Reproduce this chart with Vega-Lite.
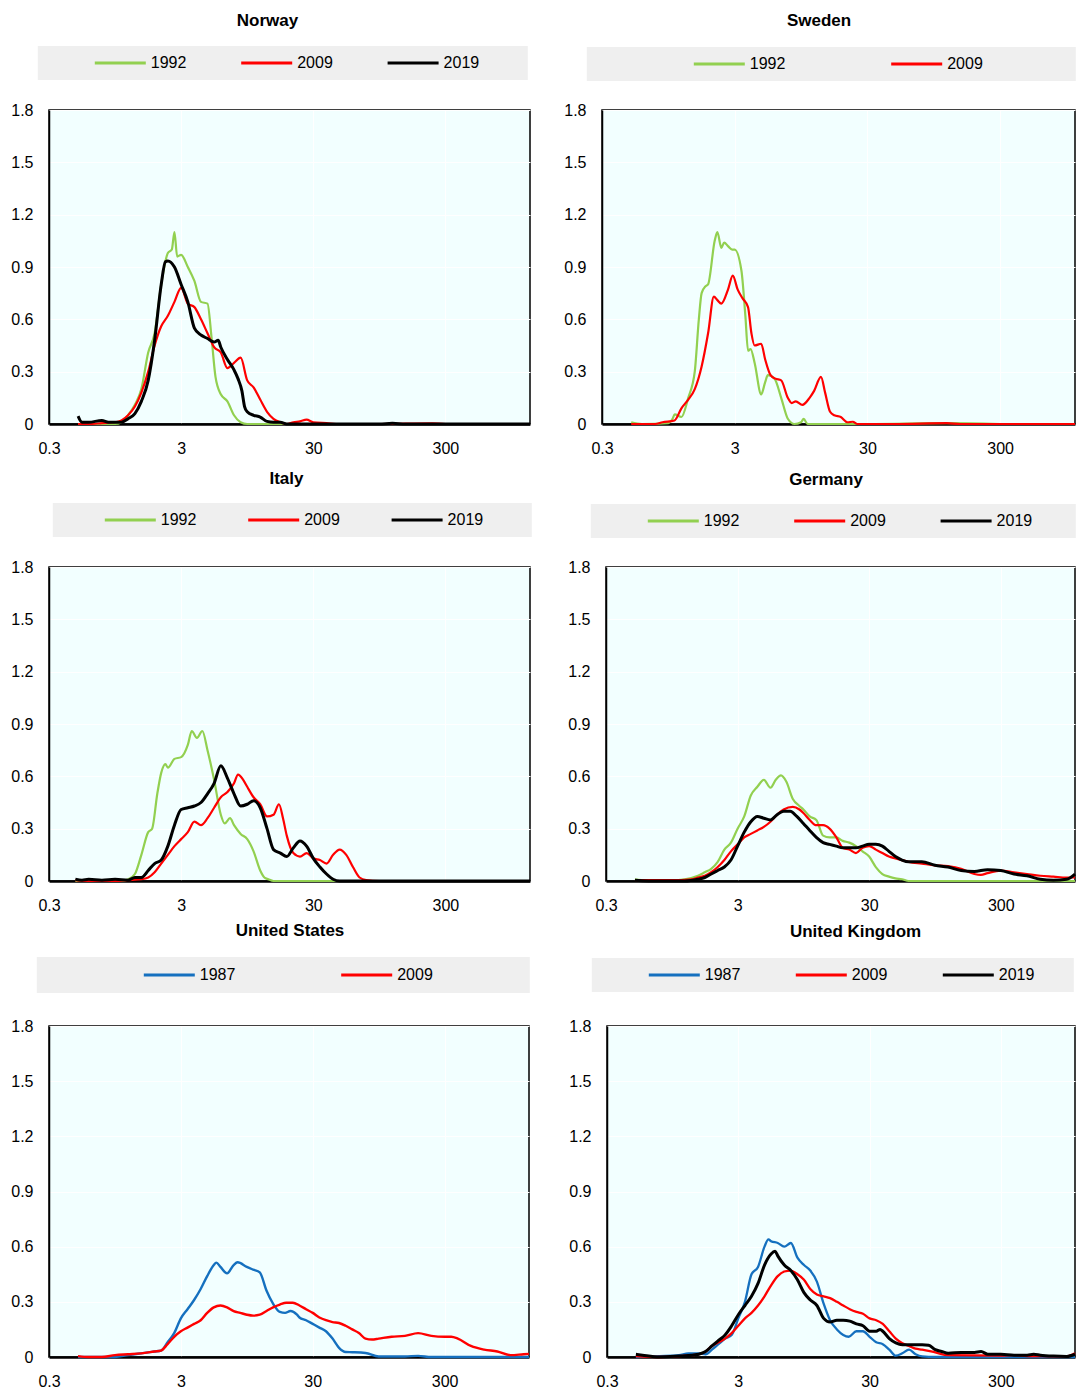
{
"$schema": "https://vega.github.io/schema/vega-lite/v6.json",
"padding": {"left": 10, "top": 11, "right": 0, "bottom": 0},
"background": "#ffffff",
"datasets": {
"no": [
{"s":"1992","x":0.498,"y":0},{"s":"1992","x":0.599,"y":0},{"s":"1992","x":0.754,"y":0},{"s":"1992","x":0.949,"y":0},{"s":"1992","x":1.06,"y":0.01},{"s":"1992","x":1.19,"y":0.05},{"s":"1992","x":1.34,"y":0.11},{"s":"1992","x":1.5,"y":0.2},{"s":"1992","x":1.69,"y":0.41},{"s":"1992","x":1.89,"y":0.52},{"s":"1992","x":2.12,"y":0.8},{"s":"1992","x":2.38,"y":0.98},{"s":"1992","x":2.55,"y":1.0},{"s":"1992","x":2.67,"y":1.1},{"s":"1992","x":2.8,"y":0.96},{"s":"1992","x":3.0,"y":0.97},{"s":"1992","x":3.37,"y":0.9},{"s":"1992","x":3.78,"y":0.82},{"s":"1992","x":4.24,"y":0.7},{"s":"1992","x":4.75,"y":0.69},{"s":"1992","x":5.09,"y":0.5},{"s":"1992","x":5.46,"y":0.27},{"s":"1992","x":5.99,"y":0.17},{"s":"1992","x":6.72,"y":0.13},{"s":"1992","x":7.54,"y":0.05},{"s":"1992","x":8.46,"y":0.01},{"s":"1992","x":9.49,"y":0},{"s":"1992","x":11.9,"y":0},{"s":"1992","x":18.9,"y":0},
{"s":"2009","x":0.498,"y":0},{"s":"2009","x":0.599,"y":0},{"s":"2009","x":0.754,"y":0.005},{"s":"2009","x":0.949,"y":0.01},{"s":"2009","x":1.06,"y":0.02},{"s":"2009","x":1.19,"y":0.05},{"s":"2009","x":1.34,"y":0.1},{"s":"2009","x":1.5,"y":0.18},{"s":"2009","x":1.69,"y":0.3},{"s":"2009","x":1.89,"y":0.45},{"s":"2009","x":2.12,"y":0.56},{"s":"2009","x":2.38,"y":0.62},{"s":"2009","x":2.67,"y":0.7},{"s":"2009","x":3.0,"y":0.78},{"s":"2009","x":3.37,"y":0.69},{"s":"2009","x":3.78,"y":0.67},{"s":"2009","x":4.24,"y":0.6},{"s":"2009","x":4.75,"y":0.52},{"s":"2009","x":5.33,"y":0.44},{"s":"2009","x":5.99,"y":0.41},{"s":"2009","x":6.72,"y":0.32},{"s":"2009","x":7.54,"y":0.35},{"s":"2009","x":8.46,"y":0.38},{"s":"2009","x":9.49,"y":0.25},{"s":"2009","x":10.6,"y":0.21},{"s":"2009","x":11.9,"y":0.14},{"s":"2009","x":13.4,"y":0.07},{"s":"2009","x":15.0,"y":0.03},{"s":"2009","x":16.9,"y":0.01},{"s":"2009","x":18.9,"y":0},{"s":"2009","x":21.2,"y":0.01},{"s":"2009","x":23.8,"y":0.015},{"s":"2009","x":26.7,"y":0.025},{"s":"2009","x":30.0,"y":0.01},{"s":"2009","x":37.8,"y":0.005},{"s":"2009","x":47.5,"y":0},{"s":"2009","x":94.9,"y":0},{"s":"2009","x":238,"y":0.004},{"s":"2009","x":300,"y":0},{"s":"2009","x":1310,"y":0},
{"s":"2019","x":0.498,"y":0.045},{"s":"2019","x":0.533,"y":0.01},{"s":"2019","x":0.599,"y":0.01},{"s":"2019","x":0.754,"y":0.02},{"s":"2019","x":0.846,"y":0.01},{"s":"2019","x":1.06,"y":0.01},{"s":"2019","x":1.19,"y":0.03},{"s":"2019","x":1.34,"y":0.06},{"s":"2019","x":1.5,"y":0.13},{"s":"2019","x":1.69,"y":0.25},{"s":"2019","x":1.89,"y":0.48},{"s":"2019","x":2.12,"y":0.8},{"s":"2019","x":2.28,"y":0.93},{"s":"2019","x":2.38,"y":0.935},{"s":"2019","x":2.67,"y":0.9},{"s":"2019","x":3.0,"y":0.8},{"s":"2019","x":3.37,"y":0.7},{"s":"2019","x":3.78,"y":0.55},{"s":"2019","x":4.24,"y":0.51},{"s":"2019","x":4.75,"y":0.49},{"s":"2019","x":5.33,"y":0.47},{"s":"2019","x":5.72,"y":0.48},{"s":"2019","x":5.99,"y":0.44},{"s":"2019","x":6.72,"y":0.37},{"s":"2019","x":7.54,"y":0.31},{"s":"2019","x":8.08,"y":0.26},{"s":"2019","x":8.65,"y":0.19},{"s":"2019","x":9.06,"y":0.1},{"s":"2019","x":9.49,"y":0.07},{"s":"2019","x":10.6,"y":0.05},{"s":"2019","x":11.9,"y":0.04},{"s":"2019","x":13.4,"y":0.015},{"s":"2019","x":15.0,"y":0.01},{"s":"2019","x":16.9,"y":0.01},{"s":"2019","x":18.9,"y":0},{"s":"2019","x":30.0,"y":0},{"s":"2019","x":94.9,"y":0},{"s":"2019","x":119,"y":0.004},{"s":"2019","x":150,"y":0},{"s":"2019","x":1310,"y":0}
],
"se": [
{"s":"1992","x":0.498,"y":0.01},{"s":"1992","x":0.599,"y":0},{"s":"1992","x":0.949,"y":0.005},{"s":"1992","x":1.02,"y":0.03},{"s":"1992","x":1.06,"y":0.055},{"s":"1992","x":1.19,"y":0.04},{"s":"1992","x":1.34,"y":0.15},{"s":"1992","x":1.5,"y":0.3},{"s":"1992","x":1.61,"y":0.6},{"s":"1992","x":1.69,"y":0.75},{"s":"1992","x":1.81,"y":0.79},{"s":"1992","x":1.89,"y":0.8},{"s":"1992","x":2.12,"y":1.05},{"s":"1992","x":2.22,"y":1.1},{"s":"1992","x":2.38,"y":1.01},{"s":"1992","x":2.5,"y":1.04},{"s":"1992","x":2.67,"y":1.02},{"s":"1992","x":2.87,"y":1.0},{"s":"1992","x":3.0,"y":1.0},{"s":"1992","x":3.37,"y":0.88},{"s":"1992","x":3.61,"y":0.62},{"s":"1992","x":3.78,"y":0.42},{"s":"1992","x":3.95,"y":0.43},{"s":"1992","x":4.24,"y":0.35},{"s":"1992","x":4.75,"y":0.17},{"s":"1992","x":5.09,"y":0.24},{"s":"1992","x":5.33,"y":0.28},{"s":"1992","x":5.99,"y":0.26},{"s":"1992","x":6.72,"y":0.15},{"s":"1992","x":7.54,"y":0.03},{"s":"1992","x":8.46,"y":0},{"s":"1992","x":9.49,"y":0.01},{"s":"1992","x":9.93,"y":0.03},{"s":"1992","x":10.6,"y":0},{"s":"1992","x":15.0,"y":0},{"s":"1992","x":30.0,"y":0},{"s":"1992","x":119,"y":0.005},{"s":"1992","x":300,"y":0},
{"s":"2009","x":0.498,"y":0},{"s":"2009","x":0.754,"y":0},{"s":"2009","x":0.857,"y":0.01},{"s":"2009","x":1.055,"y":0.02},{"s":"2009","x":1.19,"y":0.09},{"s":"2009","x":1.34,"y":0.14},{"s":"2009","x":1.5,"y":0.2},{"s":"2009","x":1.69,"y":0.33},{"s":"2009","x":1.89,"y":0.52},{"s":"2009","x":2.09,"y":0.73},{"s":"2009","x":2.22,"y":0.71},{"s":"2009","x":2.38,"y":0.69},{"s":"2009","x":2.67,"y":0.77},{"s":"2009","x":2.9,"y":0.85},{"s":"2009","x":3.16,"y":0.77},{"s":"2009","x":3.44,"y":0.72},{"s":"2009","x":3.78,"y":0.67},{"s":"2009","x":4.01,"y":0.52},{"s":"2009","x":4.24,"y":0.45},{"s":"2009","x":4.75,"y":0.46},{"s":"2009","x":5.09,"y":0.37},{"s":"2009","x":5.59,"y":0.28},{"s":"2009","x":6.08,"y":0.26},{"s":"2009","x":6.72,"y":0.25},{"s":"2009","x":7.54,"y":0.15},{"s":"2009","x":8.08,"y":0.12},{"s":"2009","x":8.65,"y":0.13},{"s":"2009","x":9.71,"y":0.11},{"s":"2009","x":11.0,"y":0.15},{"s":"2009","x":11.9,"y":0.19},{"s":"2009","x":13.4,"y":0.27},{"s":"2009","x":14.4,"y":0.18},{"s":"2009","x":15.7,"y":0.07},{"s":"2009","x":16.9,"y":0.05},{"s":"2009","x":18.9,"y":0.04},{"s":"2009","x":21.2,"y":0.01},{"s":"2009","x":23.3,"y":0.013},{"s":"2009","x":25.2,"y":0},{"s":"2009","x":47.5,"y":0},{"s":"2009","x":119,"y":0.005},{"s":"2009","x":150,"y":0},{"s":"2009","x":1100,"y":0}
],
"it": [
{"s":"1992","x":0.475,"y":0},{"s":"1992","x":0.754,"y":0},{"s":"1992","x":1.06,"y":0},{"s":"1992","x":1.19,"y":0.01},{"s":"1992","x":1.34,"y":0.04},{"s":"1992","x":1.5,"y":0.15},{"s":"1992","x":1.69,"y":0.28},{"s":"1992","x":1.81,"y":0.3},{"s":"1992","x":1.98,"y":0.5},{"s":"1992","x":2.12,"y":0.62},{"s":"1992","x":2.28,"y":0.67},{"s":"1992","x":2.38,"y":0.65},{"s":"1992","x":2.67,"y":0.7},{"s":"1992","x":3.0,"y":0.71},{"s":"1992","x":3.37,"y":0.78},{"s":"1992","x":3.61,"y":0.86},{"s":"1992","x":3.95,"y":0.82},{"s":"1992","x":4.34,"y":0.86},{"s":"1992","x":4.75,"y":0.75},{"s":"1992","x":5.33,"y":0.58},{"s":"1992","x":5.99,"y":0.38},{"s":"1992","x":6.41,"y":0.33},{"s":"1992","x":7.03,"y":0.36},{"s":"1992","x":7.54,"y":0.32},{"s":"1992","x":8.46,"y":0.27},{"s":"1992","x":9.49,"y":0.24},{"s":"1992","x":10.6,"y":0.17},{"s":"1992","x":11.9,"y":0.06},{"s":"1992","x":12.8,"y":0.02},{"s":"1992","x":13.7,"y":0.01},{"s":"1992","x":15.0,"y":0},{"s":"1992","x":30.0,"y":0},{"s":"1992","x":47.5,"y":0},
{"s":"2009","x":0.475,"y":0.005},{"s":"2009","x":0.599,"y":0},{"s":"2009","x":0.949,"y":0},{"s":"2009","x":1.19,"y":0.005},{"s":"2009","x":1.5,"y":0.01},{"s":"2009","x":1.69,"y":0.02},{"s":"2009","x":1.89,"y":0.05},{"s":"2009","x":2.12,"y":0.1},{"s":"2009","x":2.38,"y":0.15},{"s":"2009","x":2.67,"y":0.2},{"s":"2009","x":3.0,"y":0.24},{"s":"2009","x":3.37,"y":0.28},{"s":"2009","x":3.78,"y":0.34},{"s":"2009","x":4.24,"y":0.32},{"s":"2009","x":4.75,"y":0.36},{"s":"2009","x":5.33,"y":0.42},{"s":"2009","x":5.99,"y":0.48},{"s":"2009","x":6.72,"y":0.51},{"s":"2009","x":7.54,"y":0.56},{"s":"2009","x":8.08,"y":0.61},{"s":"2009","x":8.85,"y":0.58},{"s":"2009","x":9.49,"y":0.54},{"s":"2009","x":10.6,"y":0.48},{"s":"2009","x":11.9,"y":0.44},{"s":"2009","x":13.4,"y":0.37},{"s":"2009","x":15.0,"y":0.38},{"s":"2009","x":16.5,"y":0.44},{"s":"2009","x":17.7,"y":0.36},{"s":"2009","x":18.9,"y":0.26},{"s":"2009","x":21.2,"y":0.16},{"s":"2009","x":23.8,"y":0.14},{"s":"2009","x":26.7,"y":0.16},{"s":"2009","x":30.0,"y":0.13},{"s":"2009","x":33.7,"y":0.12},{"s":"2009","x":37.8,"y":0.1},{"s":"2009","x":42.4,"y":0.15},{"s":"2009","x":47.5,"y":0.18},{"s":"2009","x":53.3,"y":0.15},{"s":"2009","x":59.9,"y":0.08},{"s":"2009","x":67.2,"y":0.02},{"s":"2009","x":75.4,"y":0.005},{"s":"2009","x":94.9,"y":0},{"s":"2009","x":1310,"y":0},
{"s":"2019","x":0.475,"y":0.01},{"s":"2019","x":0.533,"y":0.005},{"s":"2019","x":0.599,"y":0.01},{"s":"2019","x":0.754,"y":0.005},{"s":"2019","x":0.949,"y":0.01},{"s":"2019","x":1.19,"y":0.005},{"s":"2019","x":1.34,"y":0.02},{"s":"2019","x":1.5,"y":0.02},{"s":"2019","x":1.69,"y":0.06},{"s":"2019","x":1.89,"y":0.1},{"s":"2019","x":2.12,"y":0.12},{"s":"2019","x":2.38,"y":0.2},{"s":"2019","x":2.67,"y":0.32},{"s":"2019","x":3.0,"y":0.41},{"s":"2019","x":3.37,"y":0.42},{"s":"2019","x":3.78,"y":0.43},{"s":"2019","x":4.24,"y":0.45},{"s":"2019","x":4.75,"y":0.5},{"s":"2019","x":5.33,"y":0.56},{"s":"2019","x":5.99,"y":0.66},{"s":"2019","x":6.72,"y":0.59},{"s":"2019","x":7.54,"y":0.5},{"s":"2019","x":8.46,"y":0.43},{"s":"2019","x":9.49,"y":0.44},{"s":"2019","x":10.6,"y":0.46},{"s":"2019","x":11.9,"y":0.42},{"s":"2019","x":13.4,"y":0.3},{"s":"2019","x":15.0,"y":0.18},{"s":"2019","x":16.9,"y":0.16},{"s":"2019","x":18.9,"y":0.14},{"s":"2019","x":21.2,"y":0.19},{"s":"2019","x":23.8,"y":0.23},{"s":"2019","x":26.7,"y":0.2},{"s":"2019","x":30.0,"y":0.13},{"s":"2019","x":33.7,"y":0.08},{"s":"2019","x":37.8,"y":0.04},{"s":"2019","x":42.4,"y":0.01},{"s":"2019","x":47.5,"y":0},{"s":"2019","x":94.9,"y":0},{"s":"2019","x":1310,"y":0}
],
"de": [
{"s":"1992","x":0.498,"y":0.01},{"s":"1992","x":0.599,"y":0.005},{"s":"1992","x":0.949,"y":0.005},{"s":"1992","x":1.19,"y":0.01},{"s":"1992","x":1.5,"y":0.03},{"s":"1992","x":1.69,"y":0.05},{"s":"1992","x":1.89,"y":0.07},{"s":"1992","x":2.12,"y":0.11},{"s":"1992","x":2.38,"y":0.18},{"s":"1992","x":2.67,"y":0.22},{"s":"1992","x":3.0,"y":0.3},{"s":"1992","x":3.37,"y":0.37},{"s":"1992","x":3.78,"y":0.49},{"s":"1992","x":4.24,"y":0.54},{"s":"1992","x":4.75,"y":0.58},{"s":"1992","x":5.33,"y":0.535},{"s":"1992","x":5.85,"y":0.58},{"s":"1992","x":6.41,"y":0.605},{"s":"1992","x":7.03,"y":0.57},{"s":"1992","x":7.89,"y":0.47},{"s":"1992","x":8.85,"y":0.43},{"s":"1992","x":9.49,"y":0.41},{"s":"1992","x":10.6,"y":0.37},{"s":"1992","x":11.9,"y":0.35},{"s":"1992","x":13.4,"y":0.26},{"s":"1992","x":15.0,"y":0.25},{"s":"1992","x":16.9,"y":0.25},{"s":"1992","x":18.9,"y":0.23},{"s":"1992","x":21.2,"y":0.22},{"s":"1992","x":23.8,"y":0.2},{"s":"1992","x":26.7,"y":0.17},{"s":"1992","x":30.0,"y":0.14},{"s":"1992","x":33.7,"y":0.08},{"s":"1992","x":37.8,"y":0.04},{"s":"1992","x":42.4,"y":0.025},{"s":"1992","x":47.5,"y":0.015},{"s":"1992","x":53.3,"y":0.01},{"s":"1992","x":59.9,"y":0},{"s":"1992","x":1100,"y":0},
{"s":"2009","x":0.498,"y":0.005},{"s":"2009","x":0.949,"y":0.005},{"s":"2009","x":1.34,"y":0.01},{"s":"2009","x":1.5,"y":0.02},{"s":"2009","x":1.69,"y":0.03},{"s":"2009","x":1.89,"y":0.05},{"s":"2009","x":2.12,"y":0.08},{"s":"2009","x":2.38,"y":0.12},{"s":"2009","x":2.67,"y":0.17},{"s":"2009","x":3.0,"y":0.21},{"s":"2009","x":3.37,"y":0.25},{"s":"2009","x":3.78,"y":0.27},{"s":"2009","x":4.24,"y":0.29},{"s":"2009","x":4.75,"y":0.31},{"s":"2009","x":5.33,"y":0.34},{"s":"2009","x":5.99,"y":0.38},{"s":"2009","x":6.72,"y":0.41},{"s":"2009","x":7.89,"y":0.425},{"s":"2009","x":8.85,"y":0.41},{"s":"2009","x":9.49,"y":0.39},{"s":"2009","x":10.6,"y":0.35},{"s":"2009","x":11.9,"y":0.32},{"s":"2009","x":13.4,"y":0.32},{"s":"2009","x":15.0,"y":0.3},{"s":"2009","x":16.9,"y":0.25},{"s":"2009","x":18.9,"y":0.19},{"s":"2009","x":21.2,"y":0.18},{"s":"2009","x":23.8,"y":0.16},{"s":"2009","x":26.7,"y":0.19},{"s":"2009","x":30.0,"y":0.2},{"s":"2009","x":33.7,"y":0.18},{"s":"2009","x":37.8,"y":0.16},{"s":"2009","x":42.4,"y":0.14},{"s":"2009","x":47.5,"y":0.13},{"s":"2009","x":53.3,"y":0.12},{"s":"2009","x":59.9,"y":0.11},{"s":"2009","x":75.4,"y":0.1},{"s":"2009","x":94.9,"y":0.09},{"s":"2009","x":119,"y":0.085},{"s":"2009","x":150,"y":0.07},{"s":"2009","x":189,"y":0.04},{"s":"2009","x":212,"y":0.035},{"s":"2009","x":238,"y":0.045},{"s":"2009","x":300,"y":0.06},{"s":"2009","x":378,"y":0.05},{"s":"2009","x":475,"y":0.04},{"s":"2009","x":599,"y":0.03},{"s":"2009","x":754,"y":0.025},{"s":"2009","x":949,"y":0.02},{"s":"2009","x":1100,"y":0.02},
{"s":"2019","x":0.498,"y":0.005},{"s":"2019","x":0.754,"y":0},{"s":"2019","x":1.19,"y":0},{"s":"2019","x":1.5,"y":0.01},{"s":"2019","x":1.69,"y":0.02},{"s":"2019","x":1.89,"y":0.04},{"s":"2019","x":2.12,"y":0.06},{"s":"2019","x":2.38,"y":0.08},{"s":"2019","x":2.67,"y":0.12},{"s":"2019","x":3.0,"y":0.2},{"s":"2019","x":3.37,"y":0.28},{"s":"2019","x":3.78,"y":0.34},{"s":"2019","x":4.24,"y":0.37},{"s":"2019","x":4.75,"y":0.36},{"s":"2019","x":5.33,"y":0.35},{"s":"2019","x":5.99,"y":0.38},{"s":"2019","x":6.72,"y":0.4},{"s":"2019","x":7.54,"y":0.4},{"s":"2019","x":8.46,"y":0.37},{"s":"2019","x":9.49,"y":0.33},{"s":"2019","x":10.6,"y":0.29},{"s":"2019","x":11.9,"y":0.25},{"s":"2019","x":13.4,"y":0.22},{"s":"2019","x":15.0,"y":0.21},{"s":"2019","x":16.9,"y":0.2},{"s":"2019","x":18.9,"y":0.19},{"s":"2019","x":21.2,"y":0.19},{"s":"2019","x":23.8,"y":0.19},{"s":"2019","x":26.7,"y":0.2},{"s":"2019","x":30.0,"y":0.21},{"s":"2019","x":33.7,"y":0.21},{"s":"2019","x":37.8,"y":0.2},{"s":"2019","x":42.4,"y":0.17},{"s":"2019","x":47.5,"y":0.14},{"s":"2019","x":53.3,"y":0.12},{"s":"2019","x":59.9,"y":0.11},{"s":"2019","x":75.4,"y":0.11},{"s":"2019","x":94.9,"y":0.09},{"s":"2019","x":119,"y":0.08},{"s":"2019","x":150,"y":0.06},{"s":"2019","x":189,"y":0.055},{"s":"2019","x":238,"y":0.065},{"s":"2019","x":300,"y":0.06},{"s":"2019","x":378,"y":0.04},{"s":"2019","x":475,"y":0.03},{"s":"2019","x":599,"y":0.01},{"s":"2019","x":754,"y":0.005},{"s":"2019","x":949,"y":0.01},{"s":"2019","x":1100,"y":0.04}
],
"us": [
{"s":"1987","x":0.498,"y":0},{"s":"1987","x":0.949,"y":0},{"s":"1987","x":1.19,"y":0.01},{"s":"1987","x":1.34,"y":0.015},{"s":"1987","x":1.5,"y":0.02},{"s":"1987","x":1.69,"y":0.025},{"s":"1987","x":1.89,"y":0.03},{"s":"1987","x":2.12,"y":0.035},{"s":"1987","x":2.38,"y":0.08},{"s":"1987","x":2.67,"y":0.13},{"s":"1987","x":3.0,"y":0.21},{"s":"1987","x":3.37,"y":0.26},{"s":"1987","x":3.78,"y":0.31},{"s":"1987","x":4.24,"y":0.37},{"s":"1987","x":4.75,"y":0.44},{"s":"1987","x":5.33,"y":0.5},{"s":"1987","x":5.57,"y":0.513},{"s":"1987","x":5.99,"y":0.49},{"s":"1987","x":6.72,"y":0.455},{"s":"1987","x":7.54,"y":0.5},{"s":"1987","x":8.08,"y":0.515},{"s":"1987","x":9.49,"y":0.49},{"s":"1987","x":10.6,"y":0.475},{"s":"1987","x":11.9,"y":0.46},{"s":"1987","x":13.4,"y":0.36},{"s":"1987","x":15.0,"y":0.29},{"s":"1987","x":16.9,"y":0.245},{"s":"1987","x":18.5,"y":0.24},{"s":"1987","x":20.3,"y":0.25},{"s":"1987","x":22.8,"y":0.23},{"s":"1987","x":23.8,"y":0.215},{"s":"1987","x":26.7,"y":0.2},{"s":"1987","x":30.0,"y":0.18},{"s":"1987","x":33.7,"y":0.16},{"s":"1987","x":37.8,"y":0.14},{"s":"1987","x":42.4,"y":0.1},{"s":"1987","x":47.5,"y":0.05},{"s":"1987","x":53.3,"y":0.027},{"s":"1987","x":59.9,"y":0.026},{"s":"1987","x":75.4,"y":0.022},{"s":"1987","x":94.9,"y":0.003},{"s":"1987","x":150,"y":0.003},{"s":"1987","x":189,"y":0.006},{"s":"1987","x":238,"y":0},{"s":"1987","x":1310,"y":0},
{"s":"2009","x":0.498,"y":0.005},{"s":"2009","x":0.599,"y":0},{"s":"2009","x":0.754,"y":0},{"s":"2009","x":0.949,"y":0.01},{"s":"2009","x":1.19,"y":0.015},{"s":"2009","x":1.5,"y":0.02},{"s":"2009","x":1.89,"y":0.03},{"s":"2009","x":2.12,"y":0.035},{"s":"2009","x":2.38,"y":0.07},{"s":"2009","x":2.67,"y":0.11},{"s":"2009","x":3.0,"y":0.14},{"s":"2009","x":3.37,"y":0.16},{"s":"2009","x":3.78,"y":0.18},{"s":"2009","x":4.24,"y":0.2},{"s":"2009","x":4.75,"y":0.24},{"s":"2009","x":5.33,"y":0.27},{"s":"2009","x":5.99,"y":0.28},{"s":"2009","x":6.72,"y":0.27},{"s":"2009","x":7.54,"y":0.25},{"s":"2009","x":8.46,"y":0.24},{"s":"2009","x":9.49,"y":0.23},{"s":"2009","x":10.6,"y":0.225},{"s":"2009","x":11.9,"y":0.23},{"s":"2009","x":13.4,"y":0.25},{"s":"2009","x":15.0,"y":0.27},{"s":"2009","x":16.9,"y":0.285},{"s":"2009","x":18.9,"y":0.295},{"s":"2009","x":21.2,"y":0.295},{"s":"2009","x":23.8,"y":0.28},{"s":"2009","x":26.7,"y":0.26},{"s":"2009","x":30.0,"y":0.24},{"s":"2009","x":33.7,"y":0.215},{"s":"2009","x":37.8,"y":0.2},{"s":"2009","x":42.4,"y":0.19},{"s":"2009","x":47.5,"y":0.185},{"s":"2009","x":53.3,"y":0.17},{"s":"2009","x":59.9,"y":0.15},{"s":"2009","x":67.2,"y":0.13},{"s":"2009","x":75.4,"y":0.1},{"s":"2009","x":84.5,"y":0.095},{"s":"2009","x":94.9,"y":0.1},{"s":"2009","x":119,"y":0.11},{"s":"2009","x":150,"y":0.115},{"s":"2009","x":189,"y":0.13},{"s":"2009","x":238,"y":0.115},{"s":"2009","x":300,"y":0.11},{"s":"2009","x":337,"y":0.11},{"s":"2009","x":378,"y":0.1},{"s":"2009","x":475,"y":0.06},{"s":"2009","x":599,"y":0.04},{"s":"2009","x":754,"y":0.03},{"s":"2009","x":949,"y":0.01},{"s":"2009","x":1190,"y":0.015},{"s":"2009","x":1310,"y":0.017}
],
"uk": [
{"s":"1987","x":0.498,"y":0},{"s":"1987","x":0.754,"y":0.005},{"s":"1987","x":1.06,"y":0.01},{"s":"1987","x":1.25,"y":0.02},{"s":"1987","x":1.5,"y":0.02},{"s":"1987","x":1.69,"y":0.015},{"s":"1987","x":1.89,"y":0.04},{"s":"1987","x":2.12,"y":0.07},{"s":"1987","x":2.38,"y":0.1},{"s":"1987","x":2.67,"y":0.12},{"s":"1987","x":3.0,"y":0.21},{"s":"1987","x":3.37,"y":0.3},{"s":"1987","x":3.78,"y":0.45},{"s":"1987","x":4.24,"y":0.49},{"s":"1987","x":4.75,"y":0.6},{"s":"1987","x":5.09,"y":0.64},{"s":"1987","x":5.33,"y":0.63},{"s":"1987","x":5.99,"y":0.62},{"s":"1987","x":6.72,"y":0.6},{"s":"1987","x":7.54,"y":0.62},{"s":"1987","x":8.46,"y":0.54},{"s":"1987","x":9.49,"y":0.5},{"s":"1987","x":10.6,"y":0.47},{"s":"1987","x":11.9,"y":0.41},{"s":"1987","x":13.4,"y":0.29},{"s":"1987","x":15.0,"y":0.2},{"s":"1987","x":16.9,"y":0.15},{"s":"1987","x":18.9,"y":0.12},{"s":"1987","x":20.8,"y":0.11},{"s":"1987","x":23.8,"y":0.14},{"s":"1987","x":26.7,"y":0.14},{"s":"1987","x":30.0,"y":0.11},{"s":"1987","x":33.7,"y":0.08},{"s":"1987","x":37.8,"y":0.07},{"s":"1987","x":42.4,"y":0.04},{"s":"1987","x":47.5,"y":0.007},{"s":"1987","x":53.3,"y":0.02},{"s":"1987","x":59.9,"y":0.04},{"s":"1987","x":67.2,"y":0.015},{"s":"1987","x":75.4,"y":0.003},{"s":"1987","x":94.9,"y":0},{"s":"1987","x":1100,"y":0},
{"s":"2009","x":0.498,"y":0.005},{"s":"2009","x":0.754,"y":0},{"s":"2009","x":1.06,"y":0.005},{"s":"2009","x":1.34,"y":0.01},{"s":"2009","x":1.5,"y":0.015},{"s":"2009","x":1.69,"y":0.03},{"s":"2009","x":1.89,"y":0.06},{"s":"2009","x":2.12,"y":0.08},{"s":"2009","x":2.38,"y":0.1},{"s":"2009","x":2.67,"y":0.13},{"s":"2009","x":3.0,"y":0.17},{"s":"2009","x":3.37,"y":0.21},{"s":"2009","x":3.78,"y":0.24},{"s":"2009","x":4.24,"y":0.28},{"s":"2009","x":4.75,"y":0.33},{"s":"2009","x":5.33,"y":0.39},{"s":"2009","x":5.99,"y":0.44},{"s":"2009","x":6.72,"y":0.465},{"s":"2009","x":7.54,"y":0.47},{"s":"2009","x":8.46,"y":0.45},{"s":"2009","x":9.49,"y":0.42},{"s":"2009","x":10.6,"y":0.37},{"s":"2009","x":11.9,"y":0.34},{"s":"2009","x":13.4,"y":0.33},{"s":"2009","x":15.0,"y":0.32},{"s":"2009","x":16.9,"y":0.3},{"s":"2009","x":18.9,"y":0.28},{"s":"2009","x":21.2,"y":0.26},{"s":"2009","x":23.8,"y":0.245},{"s":"2009","x":26.7,"y":0.235},{"s":"2009","x":30.0,"y":0.21},{"s":"2009","x":33.7,"y":0.2},{"s":"2009","x":37.8,"y":0.18},{"s":"2009","x":42.4,"y":0.14},{"s":"2009","x":47.5,"y":0.1},{"s":"2009","x":53.3,"y":0.075},{"s":"2009","x":59.9,"y":0.06},{"s":"2009","x":67.2,"y":0.045},{"s":"2009","x":75.4,"y":0.04},{"s":"2009","x":94.9,"y":0.025},{"s":"2009","x":119,"y":0.01},{"s":"2009","x":300,"y":0.008},{"s":"2009","x":378,"y":0.01},{"s":"2009","x":475,"y":0.005},{"s":"2009","x":754,"y":0.004},{"s":"2009","x":949,"y":0.003},{"s":"2009","x":1100,"y":0.02},
{"s":"2019","x":0.498,"y":0.015},{"s":"2019","x":0.559,"y":0.01},{"s":"2019","x":0.754,"y":0},{"s":"2019","x":1.06,"y":0.005},{"s":"2019","x":1.34,"y":0.01},{"s":"2019","x":1.5,"y":0.015},{"s":"2019","x":1.69,"y":0.03},{"s":"2019","x":1.89,"y":0.06},{"s":"2019","x":2.12,"y":0.09},{"s":"2019","x":2.38,"y":0.12},{"s":"2019","x":2.67,"y":0.17},{"s":"2019","x":3.0,"y":0.23},{"s":"2019","x":3.37,"y":0.28},{"s":"2019","x":3.78,"y":0.33},{"s":"2019","x":4.24,"y":0.4},{"s":"2019","x":4.75,"y":0.5},{"s":"2019","x":5.33,"y":0.56},{"s":"2019","x":5.72,"y":0.575},{"s":"2019","x":5.99,"y":0.55},{"s":"2019","x":6.72,"y":0.5},{"s":"2019","x":7.54,"y":0.47},{"s":"2019","x":8.46,"y":0.42},{"s":"2019","x":9.49,"y":0.35},{"s":"2019","x":10.6,"y":0.31},{"s":"2019","x":11.9,"y":0.28},{"s":"2019","x":13.4,"y":0.21},{"s":"2019","x":15.0,"y":0.19},{"s":"2019","x":16.9,"y":0.2},{"s":"2019","x":18.9,"y":0.2},{"s":"2019","x":21.2,"y":0.195},{"s":"2019","x":23.8,"y":0.18},{"s":"2019","x":26.7,"y":0.17},{"s":"2019","x":30.0,"y":0.14},{"s":"2019","x":33.7,"y":0.14},{"s":"2019","x":36.1,"y":0.15},{"s":"2019","x":37.8,"y":0.14},{"s":"2019","x":42.4,"y":0.1},{"s":"2019","x":47.5,"y":0.077},{"s":"2019","x":53.3,"y":0.067},{"s":"2019","x":59.9,"y":0.067},{"s":"2019","x":75.4,"y":0.067},{"s":"2019","x":84.5,"y":0.064},{"s":"2019","x":94.9,"y":0.04},{"s":"2019","x":106,"y":0.03},{"s":"2019","x":119,"y":0.02},{"s":"2019","x":150,"y":0.025},{"s":"2019","x":189,"y":0.025},{"s":"2019","x":212,"y":0.03},{"s":"2019","x":238,"y":0.015},{"s":"2019","x":300,"y":0.015},{"s":"2019","x":378,"y":0.01},{"s":"2019","x":475,"y":0.01},{"s":"2019","x":533,"y":0.015},{"s":"2019","x":599,"y":0.01},{"s":"2019","x":754,"y":0.005},{"s":"2019","x":949,"y":0.003},{"s":"2019","x":1100,"y":0.015}
]
},
"vconcat": [
{"hconcat": [
{"title": {"text": "Norway", "dx": -22, "offset": 15.6},
 "width": 481, "height": 314, "data": {"name": "no"}, "mark": {"type": "line"},
 "encoding": {
  "x": {"field": "x", "type": "quantitative", "scale": {"type": "log", "domain": [0.3, 1310], "nice": false}, "axis": {"values": [0.3, 3, 30, 300], "format": "~g", "title": null}},
  "y": {"field": "y", "type": "quantitative", "scale": {"domain": [0, 1.8], "nice": false}, "axis": {"values": [0, 0.3, 0.6, 0.9, 1.2, 1.5, 1.8], "format": "~g", "title": null}},
  "color": {"field": "s", "type": "nominal", "scale": {"domain": ["1992", "2009", "2019"], "range": ["#92D050", "#FF0000", "#000000"]},
   "legend": {"legendX": -11.2, "legendY": -64, "symbolOffset": 47.5, "columnPadding": 5.4, "labelExpr": "datum.label == '2019' ? datum.label + '\u00a0\u00a0\u00a0\u00a0\u00a0\u00a0\u00a0\u00a0\u00a0\u200b' : datum.label"}},
  "strokeWidth": {"condition": {"test": "datum.s == '2019'", "value": 3}, "value": 2.2}
 }},
{"title": {"text": "Sweden", "dx": -19.5, "offset": 16.6},
 "width": 473, "height": 314, "data": {"name": "se"}, "mark": {"type": "line"},
 "encoding": {
  "x": {"field": "x", "type": "quantitative", "scale": {"type": "log", "domain": [0.3, 1100], "nice": false}, "axis": {"values": [0.3, 3, 30, 300], "format": "~g", "title": null}},
  "y": {"field": "y", "type": "quantitative", "scale": {"domain": [0, 1.8], "nice": false}, "axis": {"values": [0, 0.3, 0.6, 0.9, 1.2, 1.5, 1.8], "format": "~g", "title": null}},
  "color": {"field": "s", "type": "nominal", "scale": {"domain": ["1992", "2009"], "range": ["#92D050", "#FF0000"]},
   "legend": {"legendX": -15.2, "legendY": -63, "symbolOffset": 97.5, "columnPadding": 6.4, "labelExpr": "datum.label == '2009' ? datum.label + '\u00a0\u00a0\u00a0\u00a0\u00a0\u00a0\u00a0\u00a0\u00a0\u00a0\u00a0\u00a0\u00a0\u00a0\u00a0\u00a0\u00a0\u00a0\u00a0\u200b' : datum.label"}},
  "strokeWidth": {"condition": {"test": "datum.s == '2019'", "value": 3}, "value": 2.2}
 }}
], "spacing": 26, "resolve": {"scale": {"color": "independent", "x": "independent", "y": "independent"}, "legend": {"color": "independent"}}},
{"vconcat": [
{"hconcat": [
{"title": {"text": "Italy", "dx": -3, "offset": 14.9},
 "width": 481, "height": 314, "data": {"name": "it"}, "mark": {"type": "line"},
 "encoding": {
  "x": {"field": "x", "type": "quantitative", "scale": {"type": "log", "domain": [0.3, 1310], "nice": false}, "axis": {"values": [0.3, 3, 30, 300], "format": "~g", "title": null}},
  "y": {"field": "y", "type": "quantitative", "scale": {"domain": [0, 1.8], "nice": false}, "axis": {"values": [0, 0.3, 0.6, 0.9, 1.2, 1.5, 1.8], "format": "~g", "title": null}},
  "color": {"field": "s", "type": "nominal", "scale": {"domain": ["1992", "2009", "2019"], "range": ["#92D050", "#FF0000", "#000000"]},
   "legend": {"legendX": 3.8, "legendY": -64, "symbolOffset": 42.5, "columnPadding": 7.4, "labelExpr": "datum.label == '2019' ? datum.label + '\u00a0\u00a0\u00a0\u00a0\u00a0\u00a0\u00a0\u00a0\u00a0\u200b' : datum.label"}},
  "strokeWidth": {"condition": {"test": "datum.s == '2019'", "value": 3}, "value": 2.2}
 }},
{"title": {"text": "Germany", "dx": -14.5, "offset": 14.9},
 "width": 469, "height": 314, "data": {"name": "de"}, "mark": {"type": "line"},
 "encoding": {
  "x": {"field": "x", "type": "quantitative", "scale": {"type": "log", "domain": [0.3, 1100], "nice": false}, "axis": {"values": [0.3, 3, 30, 300], "format": "~g", "title": null}},
  "y": {"field": "y", "type": "quantitative", "scale": {"domain": [0, 1.8], "nice": false}, "axis": {"values": [0, 0.3, 0.6, 0.9, 1.2, 1.5, 1.8], "format": "~g", "title": null}},
  "color": {"field": "s", "type": "nominal", "scale": {"domain": ["1992", "2009", "2019"], "range": ["#92D050", "#FF0000", "#000000"]},
   "legend": {"legendX": -15.2, "legendY": -63, "symbolOffset": 47.5, "columnPadding": 5.4, "labelExpr": "datum.label == '2019' ? datum.label + '\u00a0\u00a0\u00a0\u00a0\u00a0\u00a0\u00a0\u00a0\u200b' : datum.label"}},
  "strokeWidth": {"condition": {"test": "datum.s == '2019'", "value": 3}, "value": 2.2}
 }}
], "spacing": 30, "resolve": {"scale": {"color": "independent", "x": "independent", "y": "independent"}, "legend": {"color": "independent"}}},
{"hconcat": [
{"title": {"text": "United States", "dx": 1, "offset": 17.3},
 "width": 480, "height": 331, "data": {"name": "us"}, "mark": {"type": "line"},
 "encoding": {
  "x": {"field": "x", "type": "quantitative", "scale": {"type": "log", "domain": [0.3, 1310], "nice": false}, "axis": {"values": [0.3, 3, 30, 300], "format": "~g", "title": null}},
  "y": {"field": "y", "type": "quantitative", "scale": {"domain": [0, 1.8], "nice": false}, "axis": {"values": [0, 0.3, 0.6, 0.9, 1.2, 1.5, 1.8], "format": "~g", "title": null}},
  "color": {"field": "s", "type": "nominal", "scale": {"domain": ["1987", "2009"], "range": ["#1570BF", "#FF0000"]},
   "legend": {"legendX": -12.2, "legendY": -69, "clipHeight": 20, "symbolOffset": 97.5, "columnPadding": 6.4, "labelExpr": "datum.label == '2009' ? datum.label + '\u00a0\u00a0\u00a0\u00a0\u00a0\u00a0\u00a0\u00a0\u00a0\u00a0\u00a0\u00a0\u00a0\u00a0\u00a0\u00a0\u00a0\u00a0\u00a0\u00a0\u200b' : datum.label"}},
  "strokeWidth": {"value": 2.4}
 }},
{"title": {"text": "United Kingdom", "dx": 14.5, "offset": 17.3},
 "width": 468, "height": 331, "data": {"name": "uk"}, "mark": {"type": "line"},
 "encoding": {
  "x": {"field": "x", "type": "quantitative", "scale": {"type": "log", "domain": [0.3, 1100], "nice": false}, "axis": {"values": [0.3, 3, 30, 300], "format": "~g", "title": null}},
  "y": {"field": "y", "type": "quantitative", "scale": {"domain": [0, 1.8], "nice": false}, "axis": {"values": [0, 0.3, 0.6, 0.9, 1.2, 1.5, 1.8], "format": "~g", "title": null}},
  "color": {"field": "s", "type": "nominal", "scale": {"domain": ["1987", "2009", "2019"], "range": ["#1570BF", "#FF0000", "#000000"]},
   "legend": {"legendX": -15.2, "legendY": -68, "symbolOffset": 47.5, "columnPadding": 6, "labelExpr": "datum.label == '2019' ? datum.label + '\u00a0\u00a0\u00a0\u00a0\u00a0\u00a0\u00a0\u200b' : datum.label"}},
  "strokeWidth": {"condition": {"test": "datum.s == '2019'", "value": 3}, "value": 2.3}
 }}
], "spacing": 33, "resolve": {"scale": {"color": "independent", "x": "independent", "y": "independent"}, "legend": {"color": "independent"}}}
], "spacing": 6, "resolve": {"scale": {"color": "independent", "x": "independent", "y": "independent"}, "legend": {"color": "independent"}}}
],
"spacing": 12,
"resolve": {"scale": {"color": "independent", "x": "independent", "y": "independent"}, "legend": {"color": "independent"}},
"config": {
 "font": "Liberation Sans, Arial, sans-serif",
 "view": {"fill": "#F2FFFF", "stroke": "#000000", "strokeWidth": 1.5},
 "line": {"interpolate": "monotone", "clip": true},
 "title": {"font": "Liberation Sans, Arial, sans-serif", "fontSize": 17, "fontWeight": "bold", "color": "#000000", "anchor": "middle", "frame": "group"},
 "axis": {"labelFont": "Liberation Sans, Arial, sans-serif", "labelFontSize": 16, "labelColor": "#000000", "ticks": false, "tickSize": 0, "grid": true, "gridColor": "#FFFFFF", "gridWidth": 1, "domainColor": "#000000", "labelOverlap": false, "labelFlush": false, "labelBound": false},
 "axisX": {"domainWidth": 2.5, "labelPadding": 16},
 "axisY": {"domainWidth": 1.5, "labelPadding": 16},
 "legend": {"orient": "none", "direction": "horizontal", "title": null, "fillColor": "#EFEFEF", "padding": 8, "symbolType": "stroke", "symbolSize": 2601, "symbolStrokeWidth": 3, "clipHeight": 18, "labelOffset": 3.5, "labelFont": "Liberation Sans, Arial, sans-serif", "labelFontSize": 16, "labelColor": "#000000"}
}
}
